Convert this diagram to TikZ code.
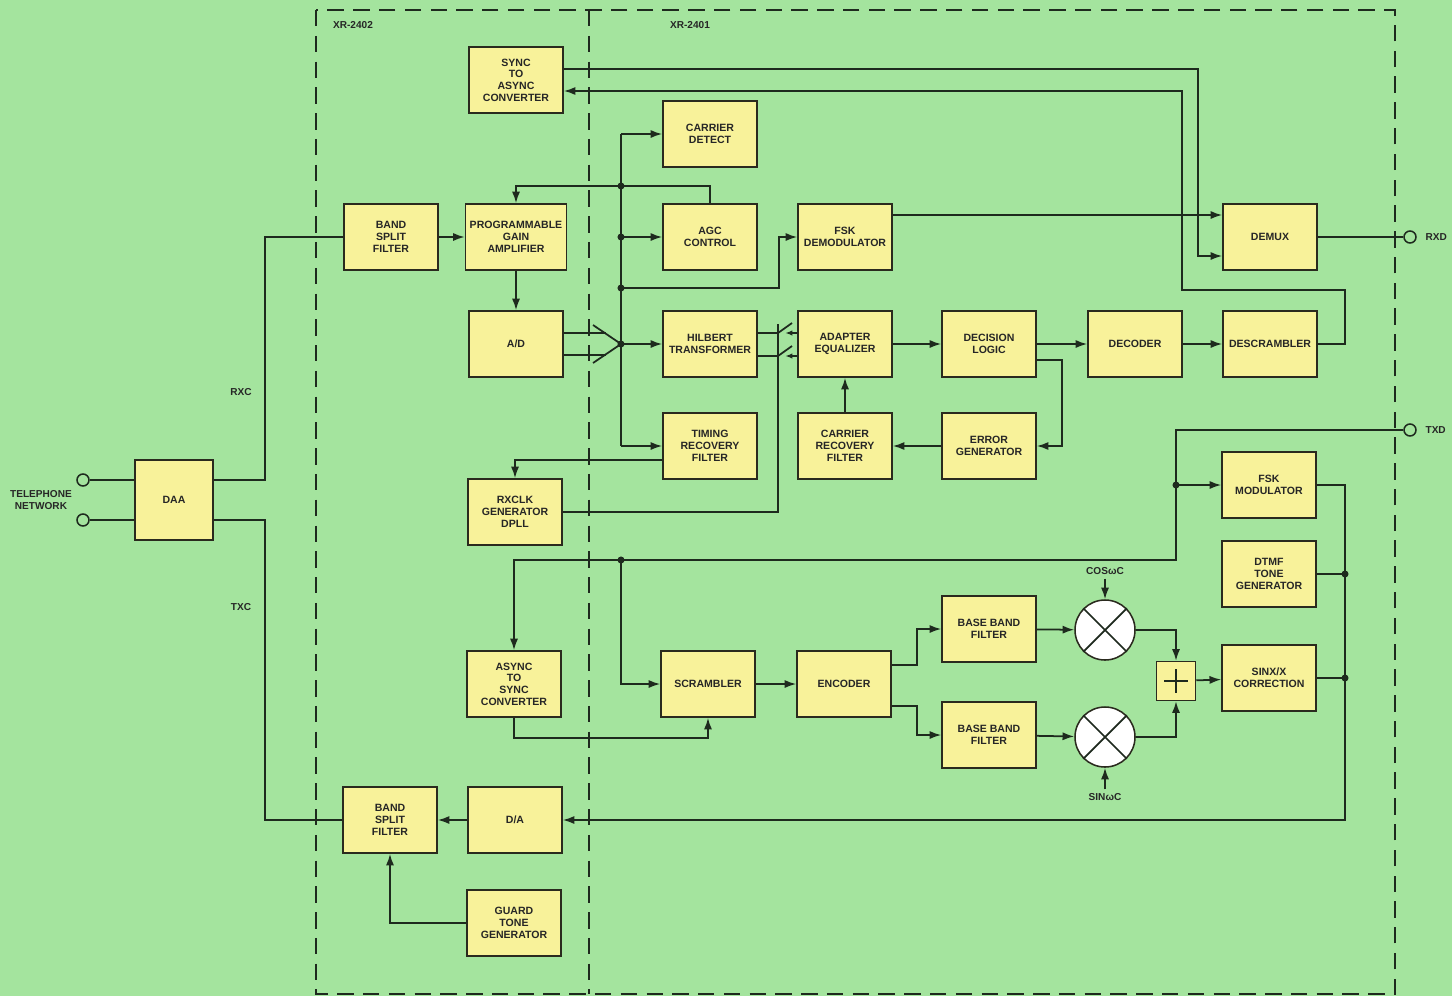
\documentclass[tikz,border=0pt]{standalone}
\usepackage{fontspec}
\setsansfont{Liberation Sans}
\usetikzlibrary{positioning,arrows.meta,calc}
\definecolor{boardBG}{HTML}{A4E49E}
\definecolor{blockBG}{HTML}{F8F29A}
\definecolor{blockBorder}{HTML}{2A2A1E}
\definecolor{wireCol}{HTML}{1E2A1E}

\begin{document}
\begin{tikzpicture}[x=0.03cm,y=-0.03cm,
  every node/.style={font=\sffamily\bfseries\fontsize{9}{10}\selectfont,text=black!85},
  blk/.style={draw=blockBorder,fill=blockBG,line width=1.3pt,align=center,
    minimum width=2.82cm,minimum height=1.98cm,inner sep=1pt},
  wblk/.style={blk,minimum width=3.03cm},
  dblk/.style={blk,minimum width=2.34cm,minimum height=2.4cm},
  mixr/.style={draw=blockBorder,fill=white,circle,line width=1.3pt,minimum size=1.8cm},
  sumr/.style={draw=blockBorder,fill=blockBG,line width=1.3pt,minimum size=1.17cm},
  term/.style={draw=wireCol,fill=boardBG,circle,line width=1.3pt,minimum size=0.36cm,inner sep=0pt},
  wire/.style={wireCol,line width=1.5pt},
  arr/.style={wire,-{Latex[length=10pt,width=7pt]}},
  sarr/.style={wire,-{Latex[length=6pt,width=4.5pt]}},
  dot/.style={circle,fill=wireCol,inner sep=0pt,minimum size=6pt},
  chip/.style={wireCol,line width=1.6pt,dash pattern=on 14pt off 8pt},
  lbl/.style={font=\sffamily\bfseries\fontsize{8.6}{9.8}\selectfont}
]
  \useasboundingbox (0,0) rectangle (1452,996);
  \fill[boardBG] (0,0) rectangle (1452,996);

  % --- chip outlines ---
  \draw[chip] (316,10) rectangle (1395,994);
  \draw[chip] (589,10) -- (589,994);
  \node[lbl] (xr2402) at (353,25) {XR-2402};
  \node[lbl] (xr2401) at (690,25) {XR-2401};

  % --- blocks ---
  \node[dblk] (daa) at (174,500) {DAA};
  \node[blk] (s2a) at (516,80) {SYNC\\TO\\ASYNC\\CONVERTER};
  \node[blk] (cdet) at (710,134) {CARRIER\\DETECT};
  \node[blk] (bsfr) at (391,237) {BAND\\SPLIT\\FILTER};
  \node[wblk] (pga) at (516,237) {PROGRAMMABLE\\GAIN\\AMPLIFIER};
  \node[blk] (agc) at (710,237) {AGC\\CONTROL};
  \node[blk] (fskd) at (845,237) {FSK\\DEMODULATOR};
  \node[blk] (demux) at (1270,237) {DEMUX};
  \node[blk] (adc) at (516,344) {A/D};
  \node[blk] (hilb) at (710,344) {HILBERT\\TRANSFORMER};
  \node[blk] (equ) at (845,344) {ADAPTER\\EQUALIZER};
  \node[blk] (dlog) at (989,344) {DECISION\\LOGIC};
  \node[blk] (dec) at (1135,344) {DECODER};
  \node[blk] (desc) at (1270,344) {DESCRAMBLER};
  \node[blk] (trf) at (710,446) {TIMING\\RECOVERY\\FILTER};
  \node[blk] (crf) at (845,446) {CARRIER\\RECOVERY\\FILTER};
  \node[blk] (errg) at (989,446) {ERROR\\GENERATOR};
  \node[blk] (rxclk) at (515,512) {RXCLK\\GENERATOR\\DPLL};
  \node[blk] (fskm) at (1269,485) {FSK\\MODULATOR};
  \node[blk] (dtmf) at (1269,574) {DTMF\\TONE\\GENERATOR};
  \node[blk] (a2s) at (514,684) {ASYNC\\TO\\SYNC\\CONVERTER};
  \node[blk] (scr) at (708,684) {SCRAMBLER};
  \node[blk] (enc) at (844,684) {ENCODER};
  \node[blk] (bbf1) at (989,629) {BASE BAND\\FILTER};
  \node[blk] (bbf2) at (989,735) {BASE BAND\\FILTER};
  \node[mixr] (mixc) at (1105,630) {};
  \node[mixr] (mixs) at (1105,737) {};
  \node[sumr] (sum) at (1176,681) {};
  \node[blk] (sinc) at (1269,678) {SINX/X\\CORRECTION};
  \node[blk] (bsft) at (390,820) {BAND\\SPLIT\\FILTER};
  \node[blk] (dac) at (515,820) {D/A};
  \node[blk] (gtg) at (514,923) {GUARD\\TONE\\GENERATOR};

  \draw[wire] (mixc.north west) -- (mixc.south east) (mixc.north east) -- (mixc.south west);
  \draw[wire] (mixs.north west) -- (mixs.south east) (mixs.north east) -- (mixs.south west);
  \draw[wire] ($(sum.center)+(0,-12)$) -- ($(sum.center)+(0,12)$)
    ($(sum.center)+(-12,0)$) -- ($(sum.center)+(12,0)$);

  % --- terminals ---
  \node[term] (tel1) at (83,480) {};
  \node[term] (tel2) at (83,520) {};
  \node[lbl,align=center] (tellbl) at (41,500) {TELEPHONE\\NETWORK};
  \node[term] (rxd) at (1410,237) {};
  \node[lbl,right=4pt of rxd] (rxdlbl) {RXD};
  \node[term] (txd) at (1410,430) {};
  \node[lbl,right=4pt of txd] (txdlbl) {TXD};

  % --- line side ---
  \coordinate (lbend) at (265,500);
  \draw[wire] (tel1) -- (tel1 -| daa.west);
  \draw[wire] (tel2) -- (tel2 -| daa.west);
  \draw[wire] (daa.east |- tel1) -| (lbend |- bsfr.west) -- (bsfr.west);
  \draw[wire] (daa.east |- tel2) -| (lbend |- bsft.west) -- (bsft.west);
  \node[lbl] (rxc) at (241,392) {RXC};
  \node[lbl] (txc) at (241,607) {TXC};

  % --- receive path ---
  \coordinate (mux) at (621,344);
  \coordinate (muxA) at (606,333);
  \coordinate (muxB) at (606,355);
  \draw[arr] (bsfr) -- (pga);
  \draw[arr] (pga) -- (adc);
  \draw[wire] (adc.east |- muxA) -- (muxA);
  \draw[wire] (adc.east |- muxB) -- (muxB);
  \draw[wire] (593,325) -- (mux) -- (593,363);
  \draw[wire] (mux |- cdet) -- (mux |- trf);
  \draw[arr] (mux |- cdet) -- (cdet);
  \draw[arr] (mux |- agc) -- (agc);
  \draw[arr] (mux) -- (hilb);
  \draw[arr] (mux |- trf) -- (trf);
  \coordinate (fskin) at (779,288);
  \draw[arr] (mux |- fskin) -- (fskin) |- (fskd.west);
  \coordinate (agcfb) at (710,186);
  \draw[arr] (agc.north) -- (agcfb) -| (pga.north);
  \node[dot] (d1) at (mux |- agcfb) {};
  \node[dot] (d2) at (mux |- agc) {};
  \node[dot] (d3) at (mux |- fskin) {};
  \node[dot] (d4) at (mux) {};

  % sampling switches
  \coordinate (swA) at (778,333);
  \coordinate (swB) at (778,356);
  \coordinate (swtop) at (778,324);
  \draw[wire] (hilb.east |- swA) -- (swA) -- ++(14,-10);
  \draw[wire] (hilb.east |- swB) -- (swB) -- ++(14,-10);
  \draw[sarr] (equ.west |- swA) -- ++(-12,0);
  \draw[sarr] (equ.west |- swB) -- ++(-12,0);
  \draw[wire] (rxclk.east) -| (swtop);
  \draw[arr] (trf.west |- 0,460) -| (rxclk.north);

  \draw[arr] (equ) -- (dlog);
  \draw[arr] (dlog) -- (dec);
  \coordinate (errbend) at (1062,400);
  \draw[arr] (dlog.east |- 0,360) -| (errbend |- errg.east) -- (errg.east);
  \draw[arr] (errg) -- (crf);
  \draw[arr] (crf) -- (equ);
  \draw[arr] (dec) -- (desc);

  \coordinate (dsR) at (1345,290);
  \coordinate (dsL) at (1182,91);
  \draw[arr] (desc.east) -| (dsR) -| (dsL) -- (s2a.east |- dsL);
  \coordinate (s2aout) at (1198,256);
  \draw[arr] (s2a.east |- 0,69) -| (s2aout) -- (demux.west |- s2aout);
  \draw[arr] (fskd.east |- 0,215) -- (demux.west |- 0,215);
  \draw[wire] (demux) -- (rxd);

  % --- transmit path ---
  \coordinate (txbus) at (1176,560);
  \coordinate (scrtap) at (621,560);
  \draw[arr] (txd) -| (txbus) -| (a2s.north);
  \draw[arr] (scrtap) |- (scr.west);
  \draw[arr] (txbus |- fskm) -- (fskm);
  \node[dot] (d5) at (scrtap) {};
  \node[dot] (d6) at (txbus |- fskm) {};
  \draw[arr] (a2s.south) -- ++(0,20) -| (scr.south);
  \draw[arr] (scr) -- (enc);
  \coordinate (encsplit) at (917,684);
  \draw[arr] (enc.east |- 0,665) -| (encsplit |- bbf1.west) -- (bbf1.west);
  \draw[arr] (enc.east |- 0,706) -| (encsplit |- bbf2.west) -- (bbf2.west);
  \draw[arr] (bbf1) -- (mixc);
  \draw[arr] (bbf2) -- (mixs);
  \node[lbl] (cosl) at (1105,571) {COSωC};
  \node[lbl] (sinl) at (1105,797) {SINωC};
  \draw[arr] (cosl) -- (mixc);
  \draw[arr] (sinl) -- (mixs);
  \draw[arr] (mixc) -| (sum);
  \draw[arr] (mixs) -| (sum);
  \draw[arr] (sum) -- (sinc);

  \coordinate (txsum) at (1345,820);
  \draw[arr] (fskm.east) -| (txsum) -- (dac);
  \draw[wire] (dtmf) -- (dtmf -| txsum);
  \draw[wire] (sinc) -- (sinc -| txsum);
  \node[dot] (d7) at (dtmf -| txsum) {};
  \node[dot] (d8) at (sinc -| txsum) {};
  \draw[arr] (dac) -- (bsft);
  \draw[arr] (gtg.west) -| (bsft.south);

\end{tikzpicture}
\end{document}
